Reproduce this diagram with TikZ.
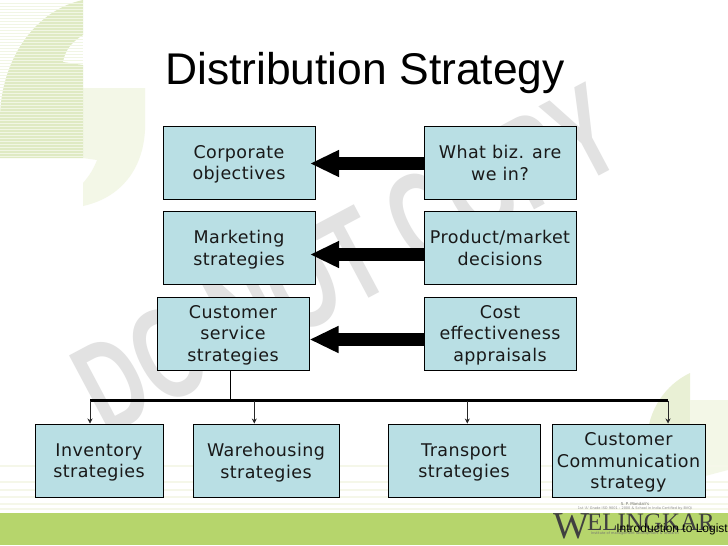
\documentclass[tikz,border=0pt]{standalone}
\usepackage{fontspec}
\setmainfont[LetterSpace=2.5]{DejaVu Sans}
\newfontfamily\plainfont{DejaVu Sans}
\newfontfamily\titlefont{Liberation Sans}
\newfontfamily\logofont{Liberation Serif}
\usetikzlibrary{arrows, arrows.meta, positioning}
\definecolor{boxfill}{HTML}{B9DFE4}
\definecolor{bandgreen}{HTML}{B6D56C}
\definecolor{quotegreen}{HTML}{DFEAC3}
\definecolor{quotepale}{HTML}{F3F7E7}
\definecolor{stripegreen}{HTML}{F5F7E9}
\definecolor{markgray}{HTML}{E2E2E2}

\begin{document}
\begin{tikzpicture}[
  x=1pt, y=-1pt,
  >=stealth,
  node distance=11pt and 108pt,
  stratbox/.style={draw=black, line width=1pt, fill=boxfill, rectangle, minimum height=73pt, minimum width=152pt, inner sep=0pt, align=center, font=\fontsize{17.5}{21.7}\selectfont, text=black!90, text depth=0pt, execute at begin node={\rule{0pt}{17pt}}},
  feedarrow/.style={-{Triangle[length=29pt, width=25pt]}, line width=13pt, draw=black},
  busline/.style={line width=3pt, draw=black},
  dropline/.style={-{Stealth[length=5pt, width=5pt]}, line width=0.7pt, draw=black!85}
]
  \useasboundingbox (0,0) rectangle (728,546);
  \fill[white] (0,0) rectangle (728,546);

  % Background: quote marks, stripes and footer band
  \fill[quotepale] (83,88) -- (145,88) -- (145,130) .. controls (143,170) and (120,198) .. (83,206) -- (83,183) .. controls (90,175) and (94,168) .. (97,160) -- (83,158) -- cycle;
  \fill[quotegreen] (83,0) .. controls (35,10) and (0,60) .. (0,120) -- (0,158) -- (83,158) -- (83,65) -- (63,62) .. controls (65,50) and (72,42) .. (83,35) -- cycle;
  \foreach \i in {3,6,...,156} {
    \draw[quotegreen!45!white, line width=0.8pt] (0,\i) -- (83,\i);
  }
  \fill[quotegreen!70] (690,373) .. controls (665,385) and (648,410) .. (647,440) -- (647,468) -- (690,468) -- cycle;
  \fill[quotepale] (690,400) -- (728,400) -- (728,470) -- (690,480) -- cycle;
  \foreach \i in {466,482,490,497,504,509} {
    \draw[stripegreen, line width=2.5pt] (0,\i) -- (728,\i);
  }
  \fill[bandgreen] (0,513) rectangle (728,545);

  % Watermark
  \node[rotate=28, xscale=0.65, text=markgray, font=\fontsize{130}{130}\bfseries\titlefont, inner sep=0pt] (watermark) at (347,259) {DO NOT COPY};

  % Footer logo
  \node[text=black!75, font=\fontsize{38}{38}\logofont, inner sep=0pt, anchor=base west] (logo) at (553,538) {W\kern-2pt\raisebox{8pt}{\fontsize{25}{25}\selectfont ELINGKAR}};
  \node[text=black!55, font=\fontsize{4}{5}\plainfont, inner sep=0pt] (mandali) at (635,504) {S. P. Mandali's};
  \node[text=black!45, font=\fontsize{3.5}{4}\plainfont, inner sep=0pt] (grade) at (635,509) {1st 'A' Grade ISO 9001 : 2000 \& School in India Certified by BVQi};
  \node[text=black!55, font=\fontsize{3.5}{4}\plainfont, inner sep=0pt] (institute) at (635,533.5) {Institute of management development \& research};
  \node[text=black, font=\fontsize{12}{14}\titlefont, inner sep=0pt, anchor=base east] (course) at (728,532) {Introduction to Logist};

  % Title
  \node[font=\fontsize{44.4}{50}\titlefont, text=black, inner sep=0pt, anchor=base] (title) at (365,84) {Distribution Strategy};

  % Upper rows: strategies on the left, inputs on the right
  \node[stratbox] (corporate) at (239,162.5) {Corporate\\objectives};
  \node[stratbox, below=of corporate] (marketing) {Marketing\\strategies};
  \node[stratbox] (service) at (233,333.5) {Customer\\service\\strategies};
  \node[stratbox, right=of corporate] (business) {What biz. are\\we in?};
  \node[stratbox, right=of marketing] (product) {Product/market\\decisions};
  \node[stratbox] (cost) at (500,333.5) {Cost\\effectiveness\\appraisals};

  % Bottom row
  \node[stratbox, minimum width=128pt] (inventory) at (99,460.5) {Inventory\\strategies};
  \node[stratbox, minimum width=146pt, right=29pt of inventory] (warehousing) {Warehousing\\strategies};
  \node[stratbox, right=48pt of warehousing] (transport) {Transport\\strategies};
  \node[stratbox, minimum width=153pt, right=11pt of transport] (communication) {Customer\\Communication\\strategy};

  % Thick arrows
  \draw[feedarrow, shorten >=-5.5pt] ([yshift=-1pt]business.west) -- ([yshift=-1pt]corporate.east);
  \draw[feedarrow, shorten >=-5.5pt] ([yshift=-7pt]product.west) -- ([yshift=-7pt]marketing.east);
  \draw[feedarrow] ([yshift=-6pt]cost.west) -- ([yshift=-6pt]service.east);

  % Distribution bus
  \coordinate (busleft) at (90,400.5);
  \coordinate (busjoin) at (230.3,400.5);
  \coordinate (busware) at (254.3,400.5);
  \coordinate (bustrans) at (467.3,400.5);
  \coordinate (busright) at (668,400.5);
  \draw[line width=1pt] (service.south -| busjoin) -- (busjoin);
  \draw[busline] (busleft) -- (busright);
  \draw[dropline] (busleft) -- (inventory.north -| busleft);
  \draw[dropline] (busware) -- (warehousing.north -| busware);
  \draw[dropline] (bustrans) -- (transport.north -| bustrans);
  \draw[dropline] (busright) -- (communication.north -| busright);

\end{tikzpicture}
\end{document}
